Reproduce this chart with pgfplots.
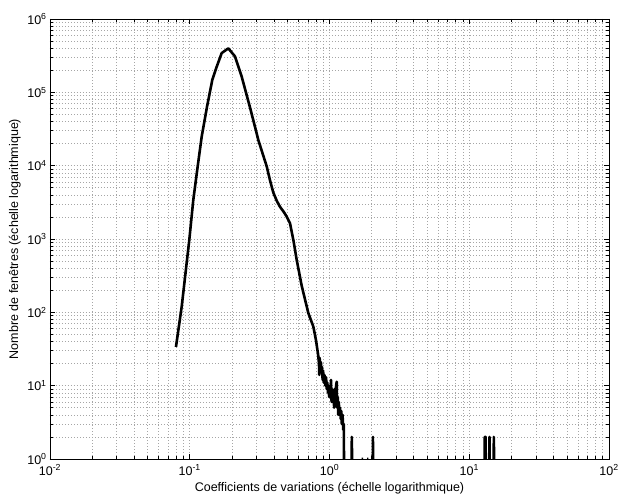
\documentclass[border=0pt]{standalone}
\usepackage{fontspec}
\setmainfont{Liberation Sans}
\usepackage{pgfplots}
\pgfplotsset{compat=1.18}

\pgfplotstableread{
x y
0.0797 33.7
0.0876 120
0.0993 977
0.106 3400
0.114 9800
0.1218 25000
0.1328 63000
0.145 148000
0.156 224000
0.1693 343000
0.1888 398000
0.2108 309000
0.2353 164000
0.2700 62000
0.3013 27500
0.3094 22400
0.3553 9800
0.3762 6200
0.3962 4300
0.42 3300
0.4422 2750
0.47 2350
0.4942 2020
0.5217 1640
0.5508 980
0.5824 520
0.6326 230
0.7052 98
0.7660 64
0.80 42
0.815 33
0.83 26
0.841 20
0.845 14
0.85 24
0.86 17
0.868 21
0.875 15
0.885 18
0.893 12
0.90 16
0.91 11
0.92 14
0.935 10
0.945 13
0.955 9
0.965 11
0.975 8
0.985 9
0.995 7
1.005 10
1.015 7
1.025 12
1.035 6
1.045 9
1.055 6
1.065 8
1.08 5
1.09 9
1.10 6
1.115 10
1.126 11.3
1.135 5
1.145 7
1.155 4
1.165 6
1.18 4
1.19 5
1.205 3.5
1.215 4.5
1.225 3
1.24 4
1.255 2.5
1.265 3
1.27 1
nan nan
1.44 1
1.445 2
1.45 1
nan nan
1.70 1
1.74 1
nan nan
1.86 1
1.90 1
nan nan
2.04 1
2.045 2
2.05 1
nan nan
12.9 1
12.9 2
13.1 2
13.1 1
nan nan
13.9 1
13.95 2
14.0 1
nan nan
14.95 1
15.0 2
15.05 1
}\cvdata

\begin{document}
\begin{tikzpicture}
\path[use as bounding box] (-50pt,-36pt) rectangle (569pt,459pt);
\begin{axis}[
  scale only axis,
  width=559pt, height=440pt,
  xmode=log, ymode=log,
  xmin=0.01, xmax=100, ymin=1, ymax=1e6,
  xtick={0.01,0.1,1,10,100},
  xticklabels={10\textsuperscript{-2},10\textsuperscript{-1},10\textsuperscript{0},10\textsuperscript{1},10\textsuperscript{2}},
  ytick={1,10,100,1000,10000,100000,1000000},
  yticklabels={10\textsuperscript{0},10\textsuperscript{1},10\textsuperscript{2},10\textsuperscript{3},10\textsuperscript{4},10\textsuperscript{5},10\textsuperscript{6}},
  tick label style={font=\fontsize{12.5}{14}\selectfont, inner sep=1pt},
  yticklabel style={xshift=-2.2pt},
  xticklabel style={yshift=-4.5pt},
  label style={font=\fontsize{12.5}{14}\selectfont},
  xlabel={Coefficients de variations (échelle logarithmique)},
  ylabel={Nombre de fenêtres (échelle logarithmique)},
  xlabel style={at={(axis description cs:0.5,0)}, anchor=base, yshift=-33pt},
  ylabel style={at={(axis description cs:-0.0572,0.5)}, anchor=base},
  grid=both,
  major grid style={gray!70, line width=0.5pt, dash pattern=on 1pt off 2pt},
  minor grid style={gray!70, line width=0.5pt, dash pattern=on 1pt off 2pt},
  tick align=inside, tick pos=both,
  major tick length=5pt, minor tick length=3pt,
  every tick/.style={black, line width=0.5pt},
  axis line style={black, line width=0.6pt},
  unbounded coords=jump,
  clip=true,
]
\addplot[black, line width=2.6pt, line join=round, no markers] table[x=x, y=y] {\cvdata};
\end{axis}
\end{tikzpicture}
\end{document}
